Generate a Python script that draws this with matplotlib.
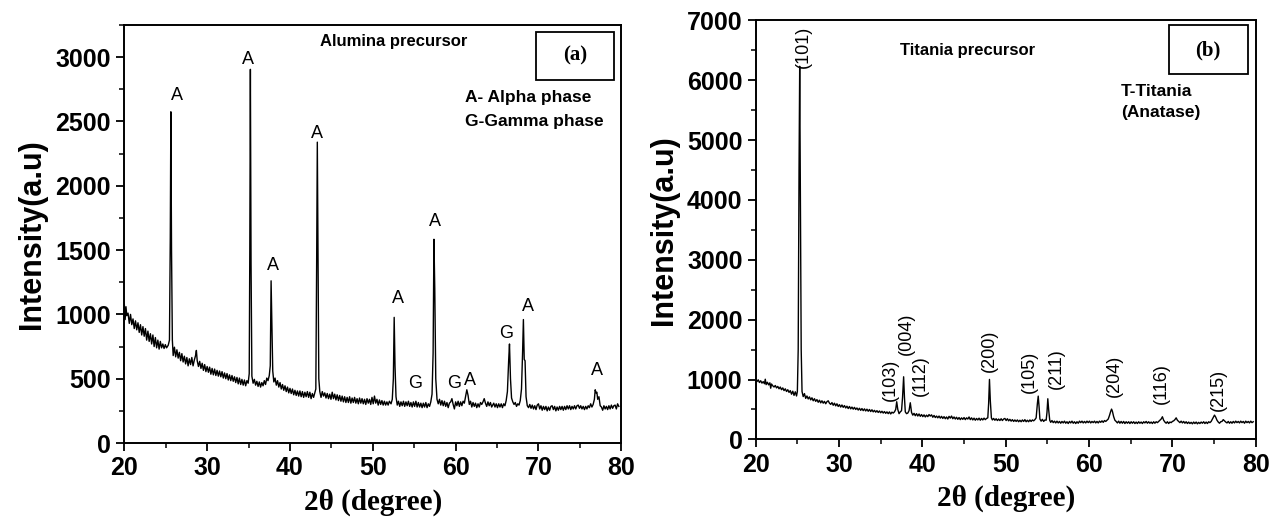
import numpy as np
import matplotlib.pyplot as plt
from matplotlib.patches import Rectangle
from matplotlib.ticker import MultipleLocator

# (2theta, intensity)
alumina = np.array([
    (20.0, 1080), (20.1, 960), (20.2, 1060), (20.3, 990), (20.45, 1010), (20.6, 930),
    (20.75, 1000), (20.9, 920), (21.05, 965), (21.2, 890), (21.35, 950), (21.5, 880),
    (21.65, 935), (21.8, 860), (21.95, 920), (22.1, 840), (22.25, 905), (22.4, 830),
    (22.55, 890), (22.7, 800), (22.85, 870), (23.0, 790), (23.15, 850), (23.3, 770),
    (23.45, 840), (23.6, 750), (23.75, 820), (23.9, 740), (24.05, 800), (24.2, 730),
    (24.35, 790), (24.5, 740), (24.65, 770), (24.8, 735), (24.95, 765), (25.1, 740),
    (25.3, 760), (25.45, 800), (25.55, 1600), (25.62, 2575), (25.7, 1500), (25.8, 800),
    (25.9, 680), (26.05, 745), (26.2, 670), (26.35, 725), (26.5, 660), (26.65, 705),
    (26.8, 640), (26.95, 695), (27.1, 630), (27.25, 675), (27.4, 615), (27.55, 665),
    (27.7, 600), (27.85, 655), (28.0, 610), (28.15, 665), (28.3, 600), (28.45, 645),
    (28.6, 680), (28.7, 720), (28.8, 640), (28.95, 595), (29.1, 635), (29.25, 580),
    (29.4, 620), (29.55, 565), (29.7, 610), (29.85, 555), (30.0, 595), (30.15, 550),
    (30.3, 590), (30.45, 535), (30.6, 580), (30.75, 530), (30.9, 575), (31.05, 525),
    (31.2, 565), (31.35, 520), (31.5, 560), (31.65, 515), (31.8, 555), (31.95, 505),
    (32.1, 545), (32.25, 500), (32.4, 540), (32.55, 490), (32.7, 530), (32.85, 485),
    (33.0, 525), (33.15, 480), (33.3, 515), (33.45, 470), (33.6, 510), (33.75, 460),
    (33.9, 505), (34.05, 455), (34.2, 495), (34.35, 450), (34.5, 490), (34.65, 445),
    (34.8, 485), (34.95, 465), (35.08, 540), (35.15, 1500), (35.22, 2905), (35.3, 1400),
    (35.4, 520), (35.55, 465), (35.7, 495), (35.85, 450), (36.0, 480), (36.15, 440),
    (36.3, 475), (36.45, 435), (36.6, 470), (36.75, 445), (36.9, 485), (37.05, 455),
    (37.2, 505), (37.35, 485), (37.5, 525), (37.62, 600), (37.72, 1261), (37.82, 900),
    (37.92, 560), (38.05, 475), (38.2, 505), (38.35, 450), (38.5, 485), (38.65, 435),
    (38.8, 470), (38.95, 420), (39.1, 455), (39.25, 410), (39.4, 445), (39.55, 400),
    (39.7, 435), (39.85, 390), (40.0, 425), (40.15, 385), (40.3, 420), (40.45, 375),
    (40.6, 410), (40.75, 370), (40.9, 405), (41.05, 365), (41.2, 405), (41.35, 360),
    (41.5, 400), (41.65, 355), (41.8, 395), (41.95, 360), (42.1, 400), (42.25, 355),
    (42.4, 395), (42.55, 345), (42.7, 385), (42.85, 355), (43.0, 390), (43.12, 420),
    (43.22, 1400), (43.3, 2339), (43.38, 1500), (43.48, 500), (43.6, 400), (43.75, 355),
    (43.9, 400), (44.05, 365), (44.2, 390), (44.35, 350), (44.5, 385), (44.65, 345),
    (44.8, 380), (44.95, 340), (45.1, 395), (45.25, 345), (45.4, 380), (45.55, 335),
    (45.7, 375), (45.85, 330), (46.0, 370), (46.15, 325), (46.3, 365), (46.45, 320),
    (46.6, 360), (46.75, 315), (46.9, 355), (47.05, 315), (47.2, 360), (47.35, 310),
    (47.5, 350), (47.65, 315), (47.8, 355), (47.95, 310), (48.1, 345), (48.25, 305),
    (48.4, 350), (48.55, 310), (48.7, 345), (48.85, 305), (49.0, 340), (49.15, 300),
    (49.3, 345), (49.45, 310), (49.6, 340), (49.75, 300), (49.9, 355), (50.05, 305),
    (50.2, 365), (50.35, 310), (50.5, 340), (50.65, 295), (50.8, 335), (50.95, 300),
    (51.1, 330), (51.25, 295), (51.4, 325), (51.55, 295), (51.7, 320), (51.85, 295),
    (52.0, 325), (52.2, 305), (52.35, 340), (52.48, 500), (52.58, 977), (52.68, 600),
    (52.8, 360), (52.95, 295), (53.1, 325), (53.25, 285), (53.4, 320), (53.55, 290),
    (53.7, 325), (53.85, 285), (54.0, 320), (54.15, 290), (54.3, 325), (54.45, 285),
    (54.6, 315), (54.75, 280), (54.9, 320), (55.05, 285), (55.2, 325), (55.35, 280),
    (55.5, 315), (55.65, 280), (55.8, 310), (55.95, 275), (56.1, 310), (56.25, 280),
    (56.4, 315), (56.55, 275), (56.7, 305), (56.85, 285), (57.0, 320), (57.15, 380),
    (57.28, 700), (57.38, 1584), (57.48, 1200), (57.6, 500), (57.75, 340), (57.9, 305),
    (58.05, 340), (58.2, 295), (58.35, 330), (58.5, 290), (58.65, 325), (58.8, 285),
    (58.95, 315), (59.1, 275), (59.25, 310), (59.4, 320), (59.55, 345), (59.7, 300),
    (59.85, 265), (60.0, 320), (60.15, 290), (60.3, 325), (60.45, 285), (60.6, 320),
    (60.75, 290), (60.9, 325), (61.05, 310), (61.2, 360), (61.35, 414), (61.5, 370),
    (61.65, 300), (61.8, 325), (61.95, 280), (62.1, 315), (62.25, 285), (62.4, 310),
    (62.55, 275), (62.7, 305), (62.85, 280), (63.0, 315), (63.15, 300), (63.3, 320),
    (63.45, 345), (63.6, 310), (63.75, 285), (63.9, 320), (64.05, 290), (64.2, 315),
    (64.35, 280), (64.6, 310), (64.75, 280), (64.9, 305), (65.05, 275), (65.2, 305),
    (65.35, 280), (65.5, 305), (65.65, 275), (65.8, 305), (65.95, 290), (66.1, 330),
    (66.25, 400), (66.4, 640), (66.5, 770), (66.62, 500), (66.75, 350), (66.9, 320),
    (67.05, 300), (67.2, 315), (67.35, 285), (67.5, 305), (67.65, 295), (67.8, 330),
    (67.95, 420), (68.08, 700), (68.18, 960), (68.28, 650), (68.38, 640), (68.5, 360),
    (68.65, 290), (68.8, 275), (68.95, 300), (69.1, 270), (69.25, 295), (69.4, 265),
    (69.55, 290), (69.7, 260), (69.85, 295), (70.0, 305), (70.15, 265), (70.3, 290),
    (70.45, 255), (70.6, 285), (70.75, 260), (70.9, 285), (71.05, 250), (71.2, 280),
    (71.35, 255), (71.5, 285), (71.65, 290), (71.8, 260), (71.95, 285), (72.1, 250),
    (72.25, 280), (72.4, 255), (72.55, 285), (72.7, 260), (72.85, 285), (73.0, 255),
    (73.15, 285), (73.3, 260), (73.45, 290), (73.6, 265), (73.75, 290), (73.9, 260),
    (74.05, 285), (74.2, 265), (74.35, 290), (74.5, 265), (74.65, 290), (74.8, 295),
    (74.95, 270), (75.1, 290), (75.25, 265), (75.4, 285), (75.55, 260), (75.7, 285),
    (75.85, 265), (76.0, 290), (76.15, 275), (76.3, 305), (76.45, 280), (76.6, 300),
    (76.75, 340), (76.85, 414), (76.95, 390), (77.05, 395), (77.15, 340), (77.3, 360),
    (77.45, 290), (77.6, 280), (77.75, 255), (77.9, 290), (78.05, 265), (78.2, 285),
    (78.35, 260), (78.5, 290), (78.65, 265), (78.8, 295), (78.95, 270), (79.1, 290),
    (79.25, 295), (79.4, 265), (79.55, 305), (79.7, 285),
])

titania = np.array([
    (20.0, 1000), (20.15, 965), (20.3, 995), (20.45, 950), (20.6, 980), (20.75, 940),
    (20.9, 965), (21.05, 930), (21.15, 1005), (21.25, 915), (21.4, 955), (21.55, 910),
    (21.7, 945), (21.8, 855), (21.9, 925), (22.05, 895), (22.2, 875), (22.35, 900),
    (22.5, 860), (22.65, 885), (22.8, 845), (22.95, 875), (23.1, 830), (23.25, 860),
    (23.4, 815), (23.55, 845), (23.7, 800), (23.85, 830), (24.0, 785), (24.15, 815),
    (24.3, 755), (24.45, 805), (24.6, 735), (24.75, 795), (24.9, 725), (25.0, 800),
    (25.1, 1500), (25.2, 4500), (25.28, 6232), (25.36, 4200), (25.46, 1500), (25.56, 800),
    (25.7, 715), (25.85, 765), (26.0, 685), (26.15, 725), (26.3, 675), (26.45, 710),
    (26.6, 660), (26.75, 695), (26.9, 645), (27.05, 680), (27.2, 635), (27.35, 665),
    (27.5, 620), (27.65, 655), (27.8, 610), (27.95, 645), (28.1, 605), (28.25, 635),
    (28.4, 595), (28.55, 630), (28.7, 645), (28.85, 605), (29.0, 585), (29.15, 615),
    (29.3, 570), (29.45, 605), (29.6, 560), (29.75, 595), (29.9, 550), (30.05, 580),
    (30.2, 540), (30.35, 575), (30.5, 535), (30.65, 565), (30.8, 525), (30.95, 555),
    (31.1, 515), (31.25, 550), (31.4, 510), (31.55, 540), (31.7, 505), (31.85, 535),
    (32.0, 500), (32.15, 525), (32.3, 490), (32.45, 520), (32.6, 485), (32.75, 515),
    (32.9, 480), (33.05, 510), (33.2, 475), (33.35, 505), (33.5, 470), (33.65, 500),
    (33.8, 465), (33.95, 495), (34.1, 460), (34.25, 485), (34.4, 455), (34.55, 480),
    (34.7, 450), (34.85, 475), (35.0, 445), (35.15, 470), (35.3, 440), (35.45, 465),
    (35.6, 435), (35.75, 460), (35.9, 430), (36.05, 460), (36.2, 425), (36.35, 455),
    (36.5, 440), (36.65, 460), (36.8, 500), (36.92, 629), (37.05, 500), (37.2, 430),
    (37.35, 460), (37.5, 480), (37.62, 700), (37.75, 1046), (37.85, 700), (37.95, 460),
    (38.1, 430), (38.25, 440), (38.4, 480), (38.55, 612), (38.7, 450), (38.85, 405),
    (39.0, 435), (39.15, 395), (39.3, 430), (39.45, 390), (39.6, 425), (39.75, 385),
    (39.9, 415), (40.05, 380), (40.2, 410), (40.35, 375), (40.5, 405), (40.65, 380),
    (40.8, 415), (40.95, 390), (41.1, 410), (41.25, 370), (41.4, 400), (41.55, 365),
    (41.7, 390), (41.85, 360), (42.0, 390), (42.15, 355), (42.3, 385), (42.45, 350),
    (42.6, 380), (42.75, 345), (42.9, 375), (43.05, 340), (43.2, 385), (43.35, 355),
    (43.5, 390), (43.65, 345), (43.8, 375), (43.95, 340), (44.1, 370), (44.25, 335),
    (44.4, 365), (44.55, 330), (44.7, 360), (44.85, 335), (45.0, 365), (45.15, 330),
    (45.3, 360), (45.45, 340), (45.6, 375), (45.75, 330), (45.9, 360), (46.05, 325),
    (46.2, 355), (46.35, 320), (46.5, 350), (46.65, 325), (46.8, 355), (46.95, 320),
    (47.1, 350), (47.25, 325), (47.4, 355), (47.55, 330), (47.7, 350), (47.85, 360),
    (47.95, 600), (48.05, 1002), (48.15, 650), (48.28, 360), (48.4, 325), (48.55, 350),
    (48.7, 320), (48.85, 345), (49.0, 315), (49.15, 340), (49.3, 315), (49.45, 345),
    (49.6, 315), (49.75, 340), (49.9, 350), (50.05, 315), (50.2, 345), (50.35, 310),
    (50.5, 335), (50.65, 305), (50.8, 330), (50.95, 300), (51.1, 325), (51.25, 300),
    (51.4, 325), (51.55, 295), (51.7, 320), (51.85, 295), (52.0, 325), (52.15, 300),
    (52.3, 330), (52.45, 295), (52.6, 320), (52.75, 295), (52.9, 325), (53.05, 300),
    (53.2, 325), (53.35, 310), (53.5, 330), (53.65, 360), (53.8, 600), (53.9, 723),
    (54.0, 550), (54.1, 340), (54.25, 305), (54.4, 335), (54.55, 300), (54.7, 325),
    (54.85, 320), (54.95, 450), (55.05, 679), (55.15, 500), (55.28, 320), (55.4, 285),
    (55.55, 315), (55.7, 280), (55.85, 305), (56.0, 275), (56.15, 305), (56.3, 275),
    (56.45, 300), (56.6, 270), (56.75, 300), (56.9, 275), (57.05, 305), (57.2, 270),
    (57.35, 295), (57.5, 265), (57.65, 300), (57.8, 275), (57.95, 305), (58.1, 270),
    (58.25, 295), (58.4, 265), (58.55, 295), (58.7, 270), (58.85, 305), (59.0, 280),
    (59.15, 305), (59.3, 275), (59.45, 300), (59.6, 275), (59.75, 305), (59.9, 280),
    (60.05, 305), (60.2, 275), (60.35, 300), (60.5, 280), (60.65, 305), (60.8, 275),
    (60.95, 300), (61.1, 275), (61.25, 305), (61.4, 285), (61.55, 310), (61.7, 285),
    (61.85, 315), (62.0, 300), (62.15, 320), (62.3, 340), (62.45, 400), (62.6, 470),
    (62.7, 506), (62.8, 470), (62.95, 380), (63.1, 320), (63.25, 300), (63.4, 275),
    (63.55, 305), (63.7, 270), (63.85, 300), (64.0, 270), (64.15, 300), (64.3, 265),
    (64.45, 295), (64.6, 270), (64.75, 295), (64.9, 265), (65.05, 295), (65.2, 270),
    (65.35, 295), (65.5, 265), (65.65, 290), (65.8, 265), (65.95, 295), (66.1, 270),
    (66.25, 290), (66.4, 265), (66.55, 295), (66.7, 275), (66.85, 300), (67.0, 270),
    (67.15, 295), (67.3, 270), (67.45, 290), (67.6, 265), (67.75, 295), (67.9, 270),
    (68.05, 295), (68.2, 280), (68.35, 300), (68.5, 320), (68.65, 340), (68.8, 378),
    (68.95, 320), (69.1, 290), (69.25, 270), (69.4, 295), (69.55, 265), (69.7, 290),
    (69.85, 280), (70.0, 300), (70.15, 310), (70.3, 330), (70.45, 360), (70.6, 320),
    (70.75, 300), (70.9, 280), (71.05, 305), (71.2, 275), (71.35, 300), (71.5, 270),
    (71.65, 295), (71.8, 265), (71.95, 290), (72.1, 265), (72.25, 285), (72.4, 260),
    (72.55, 290), (72.7, 265), (72.85, 290), (73.0, 260), (73.15, 285), (73.3, 265),
    (73.45, 290), (73.6, 270), (73.75, 295), (73.9, 265), (74.05, 290), (74.2, 265),
    (74.35, 295), (74.5, 280), (74.65, 300), (74.8, 340), (74.95, 380), (75.05, 406),
    (75.2, 370), (75.35, 320), (75.5, 290), (75.65, 270), (75.8, 295), (75.95, 300),
    (76.1, 330), (76.25, 310), (76.4, 290), (76.55, 275), (76.7, 300), (76.85, 270),
    (77.0, 295), (77.15, 270), (77.3, 300), (77.45, 275), (77.6, 305), (77.75, 280),
    (77.9, 300), (78.05, 275), (78.2, 305), (78.35, 280), (78.5, 300), (78.65, 270),
    (78.8, 305), (78.95, 280), (79.1, 300), (79.25, 275), (79.4, 305), (79.55, 280),
    (79.7, 295),
])

# phase letters above the alumina reflections: (2theta, height, letter)
alumina_marks = [
    (26.3, 2700, "A"), (34.9, 2980, "A"), (38.0, 1380, "A"), (43.3, 2410, "A"),
    (53.0, 1120, "A"), (57.5, 1725, "A"), (55.05, 460, "G"), (59.8, 460, "G"),
    (61.7, 485, "A"), (66.1, 850, "G"), (68.7, 1065, "A"), (77.1, 565, "A"),
]

# anatase (hkl) labels: (2theta, height, label)
titania_marks = [
    (25.7, 6560, "(101)"), (36.2, 990, "(103)"), (38.05, 1770, "(004)"),
    (39.8, 1060, "(112)"), (48.0, 1480, "(200)"), (52.8, 1130, "(105)"),
    (56.1, 1175, "(211)"), (63.0, 1060, "(204)"), (68.7, 935, "(116)"),
    (75.5, 825, "(215)"),
]

sans = ["Liberation Sans", "DejaVu Sans"]
serif = ["Liberation Serif", "DejaVu Serif"]

fig = plt.figure(figsize=(12.75, 5.2), dpi=100)
ax1 = fig.add_axes([0.0975, 0.148, 0.3898, 0.804])
ax2 = fig.add_axes([0.5927, 0.155, 0.3922, 0.806])


def style_axes(ax, ymax, ymajor, yminor):
    ax.set_xlim(20, 80)
    ax.set_ylim(0, ymax)
    ax.xaxis.set_major_locator(MultipleLocator(10))
    ax.xaxis.set_minor_locator(MultipleLocator(5))
    ax.yaxis.set_major_locator(MultipleLocator(ymajor))
    ax.yaxis.set_minor_locator(MultipleLocator(yminor))
    ax.tick_params(which="major", direction="out", length=6, width=1.3)
    ax.tick_params(which="minor", direction="out", length=3.5, width=1.1)
    for s in ax.spines.values():
        s.set_linewidth(1.4)
    for lab in ax.get_xticklabels() + ax.get_yticklabels():
        lab.set_fontfamily(sans)
        lab.set_fontweight("bold")
        lab.set_fontsize(18)
    ax.set_xlabel("2\u03b8 (degree)", family=serif, fontweight="bold", fontsize=21, labelpad=6)
    ax.set_ylabel("Intensity(a.u)", family=sans, fontweight="bold", fontsize=22, labelpad=6)


# (a) alumina
ax1.plot(alumina[:, 0], alumina[:, 1], color="black", lw=1.0)
style_axes(ax1, 3250, 500, 250)
for x, y, t in alumina_marks:
    ax1.text(x, y, t, ha="center", va="center", fontsize=13, family=sans)
ax1.text(0.542, 0.960, "Alumina precursor", transform=ax1.transAxes, ha="center", va="center",
         fontsize=12, fontweight="bold", family=sans)
ax1.text(0.686, 0.827, "A- Alpha phase", transform=ax1.transAxes, ha="left", va="center",
         fontsize=12.5, fontweight="bold", family=sans)
ax1.text(0.686, 0.769, "G-Gamma phase", transform=ax1.transAxes, ha="left", va="center",
         fontsize=12.5, fontweight="bold", family=sans)
ax1.add_patch(Rectangle((0.828, 0.869), 0.158, 0.115, transform=ax1.transAxes,
                        fill=False, lw=1.3, ec="black"))
ax1.text(0.907, 0.926, "(a)", transform=ax1.transAxes, ha="center", va="center",
         fontsize=15, fontweight="bold", family=serif)

# (b) titania
ax2.plot(titania[:, 0], titania[:, 1], color="black", lw=1.0)
style_axes(ax2, 7000, 1000, 500)
for x, y, t in titania_marks:
    ax2.text(x, y, t, ha="center", va="center", rotation=90, fontsize=13, family=sans)
ax2.text(0.424, 0.928, "Titania precursor", transform=ax2.transAxes, ha="center", va="center",
         fontsize=12, fontweight="bold", family=sans)
ax2.text(0.730, 0.831, "T-Titania", transform=ax2.transAxes, ha="left", va="center",
         fontsize=12.5, fontweight="bold", family=sans)
ax2.text(0.730, 0.779, "(Anatase)", transform=ax2.transAxes, ha="left", va="center",
         fontsize=12.5, fontweight="bold", family=sans)
ax2.add_patch(Rectangle((0.826, 0.871), 0.158, 0.117, transform=ax2.transAxes,
                        fill=False, lw=1.3, ec="black"))
ax2.text(0.905, 0.929, "(b)", transform=ax2.transAxes, ha="center", va="center",
         fontsize=15, fontweight="bold", family=serif)

fig.savefig("out.png", dpi=100)
